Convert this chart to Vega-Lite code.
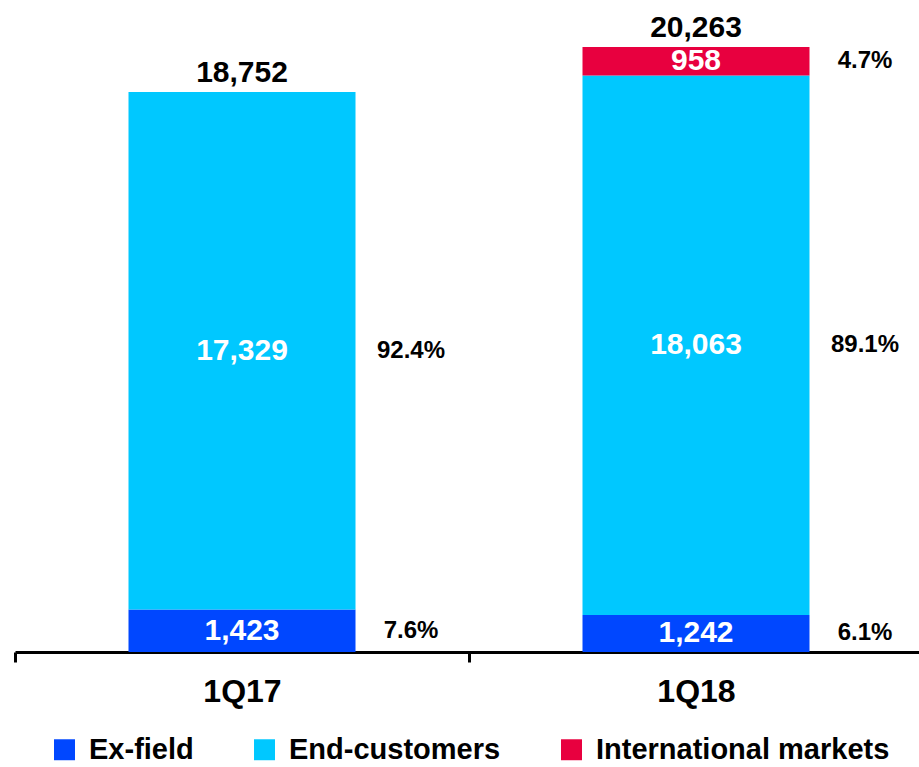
{
  "$schema": "https://vega.github.io/schema/vega-lite/v6.json",
  "autosize": {"type": "none"},
  "padding": {"left": 15, "top": 10, "right": 0, "bottom": 115},
  "width": 908,
  "height": 642,
  "background": "white",
  "config": {
    "view": {"stroke": null},
    "font": "Liberation Sans",
    "text": {"font": "Liberation Sans", "fontWeight": "bold"}
  },
  "data": {
    "values": [
      {"quarter": "1Q17", "segment": "Ex-field", "order": 1, "value": 1423, "pct": 0.076},
      {"quarter": "1Q17", "segment": "End-customers", "order": 2, "value": 17329, "pct": 0.924},
      {"quarter": "1Q18", "segment": "Ex-field", "order": 1, "value": 1242, "pct": 0.061},
      {"quarter": "1Q18", "segment": "End-customers", "order": 2, "value": 18063, "pct": 0.891},
      {"quarter": "1Q18", "segment": "International markets", "order": 3, "value": 958, "pct": 0.047}
    ]
  },
  "transform": [
    {"stack": "value", "groupby": ["quarter"], "sort": [{"field": "order", "order": "ascending"}], "as": ["v0", "v1"]},
    {"calculate": "(datum.v0 + datum.v1) / 2", "as": "mid"}
  ],
  "encoding": {
    "x": {
      "field": "quarter",
      "type": "nominal",
      "sort": ["1Q17", "1Q18"],
      "scale": {"paddingInner": 0, "paddingOuter": 0},
      "axis": {
        "title": null,
        "labelAngle": 0,
        "domainColor": "black",
        "domainWidth": 3,
        "tickColor": "black",
        "tickWidth": 3,
        "tickSize": 10,
        "tickBand": "extent",
        "labelFont": "Liberation Sans",
        "labelFontSize": 32,
        "labelFontWeight": "bold",
        "labelColor": "black",
        "labelPadding": 14
      }
    }
  },
  "layer": [
    {
      "mark": {"type": "bar", "width": {"band": 0.5}},
      "encoding": {
        "y": {"field": "v0", "type": "quantitative", "scale": {"domain": [0, 21500], "nice": false}, "axis": null},
        "y2": {"field": "v1"},
        "color": {
          "field": "segment",
          "type": "nominal",
          "scale": {"domain": ["Ex-field", "End-customers", "International markets"], "range": ["#0047FF", "#00C8FF", "#E8003F"]},
          "legend": {
            "title": null,
            "orient": "none",
            "direction": "horizontal",
            "legendX": 35,
            "legendY": 725,
            "symbolType": "square",
            "symbolSize": 440,
            "symbolStrokeWidth": 0,
            "labelFont": "Liberation Sans",
            "labelFontSize": 29,
            "labelFontWeight": "bold",
            "labelColor": "black",
            "labelOffset": 10,
            "labelLimit": 500,
            "columnPadding": 56
          }
        }
      }
    },
    {
      "mark": {"type": "text", "color": "white", "fontSize": 30, "baseline": "middle"},
      "encoding": {
        "y": {"field": "mid", "type": "quantitative"},
        "text": {"field": "value", "type": "quantitative", "format": ","}
      }
    },
    {
      "mark": {"type": "text", "color": "black", "fontSize": 24, "baseline": "middle", "dx": 169},
      "encoding": {
        "y": {"field": "mid", "type": "quantitative"},
        "text": {"field": "pct", "type": "quantitative", "format": ".1%"}
      }
    },
    {
      "transform": [{"aggregate": [{"op": "max", "field": "v1", "as": "total"}], "groupby": ["quarter"]}],
      "mark": {"type": "text", "color": "black", "fontSize": 30, "baseline": "bottom", "dy": -4},
      "encoding": {
        "y": {"field": "total", "type": "quantitative"},
        "text": {"field": "total", "type": "quantitative", "format": ","}
      }
    }
  ]
}
